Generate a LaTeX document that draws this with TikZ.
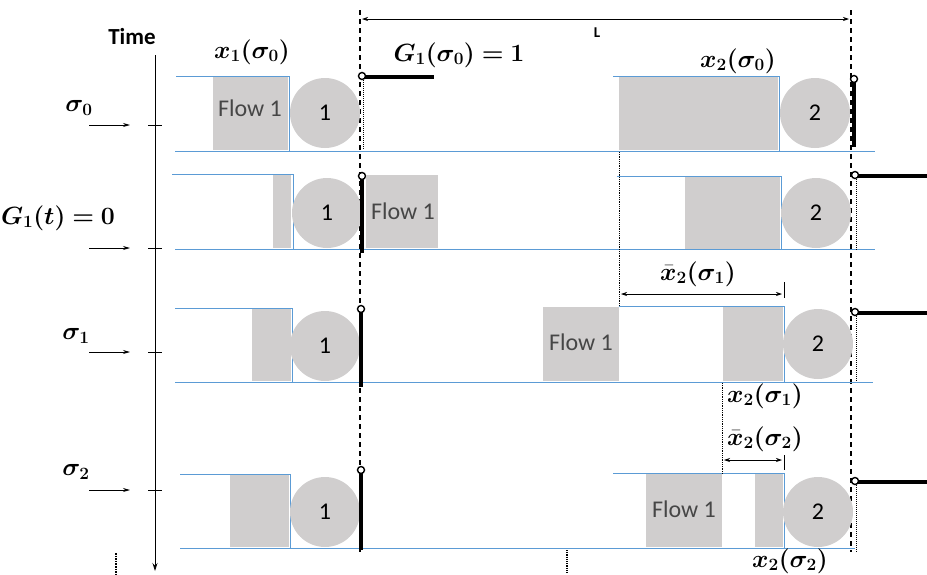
\documentclass[tikz,border=0pt]{standalone}
\usepackage{fontspec}
\setsansfont{Carlito}
\usepackage{bm}
\usetikzlibrary{arrows.meta}
\definecolor{laneblue}{RGB}{91,155,213}
\definecolor{queuegray}{RGB}{208,206,206}
\definecolor{flowgray}{RGB}{70,70,70}
\newcommand{\lbl}[1]{$\bm{#1}$}
\tikzset{
	gateshut/.pic={
			\draw[line width=4pt] (0,3) -- (0,#1);
			\draw[line width=1.4pt, fill=white] (0,0) circle (3.5pt);
		},
	gateopen/.pic={
			\draw[line width=4pt] (3,1) -- (#1,1);
			\draw[line width=1.4pt, fill=white] (0,0) circle (3.5pt);
		}
}

\begin{document}
\begin{tikzpicture}[x=1pt, y=-1pt]

              \tikzset{
                laneline/.style={
                    draw=laneblue,
                    line width=1pt
                  },
                queue/.style={
                    fill=queuegray
                  },
                server/.style={
                    shape=circle,
                    fill=queuegray,
                    minimum size=70pt,
                    inner sep=0pt,
                    font=\sffamily\fontsize{24}{28}\selectfont
                  },
                flowtext/.style={
                    text=flowgray,
                    font=\sffamily\fontsize{24}{28}\selectfont
                  },
                mathlabel/.style={
                    font=\fontsize{23}{27}\selectfont,
                    inner sep=0pt
                  },
                timelabel/.style={
                    font=\fontsize{27}{31}\selectfont,
                    inner sep=0pt
                  },
                boundary/.style={
                    line width=1.2pt,
                    dash pattern=on 5pt off 4pt
                  },
                dimline/.style={
                    {Stealth[length=6pt,width=4pt]}-{Stealth[length=6pt,width=4pt]},
                    line width=0.7pt
                  }
              }

              \useasboundingbox (0,0) rectangle (927,574);

              \coordinate (axtop) at (155,55);
              \coordinate (axbot) at (155,571);
              \draw[line width=0.8pt, -{Stealth[length=8pt,width=5pt]}] (axtop) -- (axbot);
              \node[font=\sffamily\bfseries\fontsize{23}{27}\selectfont] (time) at (132,37) {Time};

              \foreach \ty in {125,248,352,490} {
                  \draw[line width=0.8pt] (148,\ty) -- (162,\ty);
                  \draw[line width=0.8pt, -{Stealth[length=7pt,width=4pt]}] (89,\ty) -- (130,\ty);
                }

              \node[timelabel] (t0) at (79,108) {\lbl{\sigma_0}};
              \node[mathlabel] (tg) at (58,218) {\lbl{G_1(t) = 0}};
              \node[timelabel] (t1) at (76,336) {\lbl{\sigma_1}};
              \node[timelabel] (t2) at (76,472) {\lbl{\sigma_2}};

              \draw[boundary] (360,10) -- (360,552);
              \draw[boundary] (851,10) -- (851,552);
              \draw[dimline] (362,19) -- (849,19);
              \node[font=\sffamily\bfseries\fontsize{15}{18}\selectfont] (len) at (597,33) {L};

              \draw[laneline] (176,76) -- (289,76) -- (289,151);
              \draw[laneline] (175,151) -- (875,151);
              \fill[queue] (213,77) rectangle (288,150);
              \node[flowtext] (f0) at (250,108) {Flow 1};
              \node[server] (sa1) at (325,113) {1};
              \draw[densely dotted, line width=1pt] (363,80) -- (363,150);
              \pic at (362,76) {gateopen=72};
              \draw[laneline] (613,76) -- (779,76) -- (779,151);
              \fill[queue] (619,77) rectangle (778,150);
              \node[server] (sa2) at (815,113) {2};
              \pic at (854,79) {gateshut=68};

              \draw[laneline] (172,174) -- (293,174) -- (293,249);
              \draw[laneline] (175,249) -- (875,249);
              \fill[queue] (273,175) rectangle (291,248);
              \node[server] (sb1) at (327,213) {1};
              \pic at (362,176) {gateshut=77};
              \fill[queue] (366,175) rectangle (438,248);
              \node[flowtext] (fb) at (403,211) {Flow 1};
              \draw[laneline] (617,176) -- (781,176) -- (781,250);
              \fill[queue] (685,177) rectangle (780,249);
              \node[server] (sb2) at (816,213) {2};
              \draw[densely dotted, line width=1pt] (856,179) -- (856,250);
              \pic at (855,175) {gateopen=72};

              \draw[laneline] (175,308) -- (292,308) -- (292,382);
              \draw[laneline] (175,382) -- (873,382);
              \fill[queue] (252,309) rectangle (291,381);
              \node[server] (sc1) at (325,346) {1};
              \pic at (361,309) {gateshut=78};
              \fill[queue] (543,307) rectangle (619,381);
              \node[flowtext] (fc) at (581,342) {Flow 1};
              \draw[laneline] (619,306) -- (784,306) -- (784,382);
              \fill[queue] (723,307) rectangle (783,381);
              \node[server] (sc2) at (818,344) {2};
              \draw[densely dotted, line width=1pt] (856,316) -- (856,382);
              \pic at (855,312) {gateopen=72};

              \draw[laneline] (180,474) -- (290,474) -- (290,549);
              \draw[laneline] (180,548) -- (855,548);
              \fill[queue] (230,475) rectangle (289,547);
              \node[server] (sd1) at (325,512) {1};
              \pic at (361,470) {gateshut=80};
              \draw[laneline] (613,473) -- (784,473) -- (784,548);
              \fill[queue] (646,474) rectangle (722,547);
              \node[flowtext] (fd) at (684,509) {Flow 1};
              \fill[queue] (755,474) rectangle (783,547);
              \node[server] (sd2) at (818,512) {2};
              \draw[densely dotted, line width=1pt] (856,485) -- (856,552);
              \pic at (855,481) {gateopen=72};

              \coordinate (q1l) at (619,152);
              \coordinate (q1r) at (784,282);
              \draw[densely dotted, line width=0.8pt] (q1l) -- (619,306);
              \draw[line width=0.8pt] (q1r) -- (784,298);
              \draw[dimline] (621,294) -- (782,294);
              \coordinate (q2l) at (722,383);
              \coordinate (q2r) at (784,455);
              \draw[densely dotted, line width=0.8pt] (q2l) -- (722,474);
              \draw[line width=0.8pt] (q2r) -- (784,470);
              \draw[dimline] (724,460) -- (782,460);

              \node[mathlabel] (x10) at (252,52) {\lbl{x_1(\sigma_0)}};
              \node[mathlabel] (g10) at (459,55) {\lbl{G_1(\sigma_0) = 1}};
              \node[mathlabel] (x20) at (738,61) {\lbl{x_2(\sigma_0)}};
              \node[mathlabel] (xb1) at (698,274) {\lbl{\bar{x}_2(\sigma_1)}};
              \node[mathlabel] (x21) at (765,396) {\lbl{x_2(\sigma_1)}};
              \node[mathlabel] (xb2) at (765,439) {\lbl{\bar{x}_2(\sigma_2)}};
              \node[mathlabel] (x22) at (790,561) {\lbl{x_2(\sigma_2)}};

              \draw[densely dotted, line width=1.6pt] (116,553) -- (116,574);
              \draw[densely dotted, line width=1.2pt] (567,550) -- (567,574);

            \end{tikzpicture}
\end{document}
